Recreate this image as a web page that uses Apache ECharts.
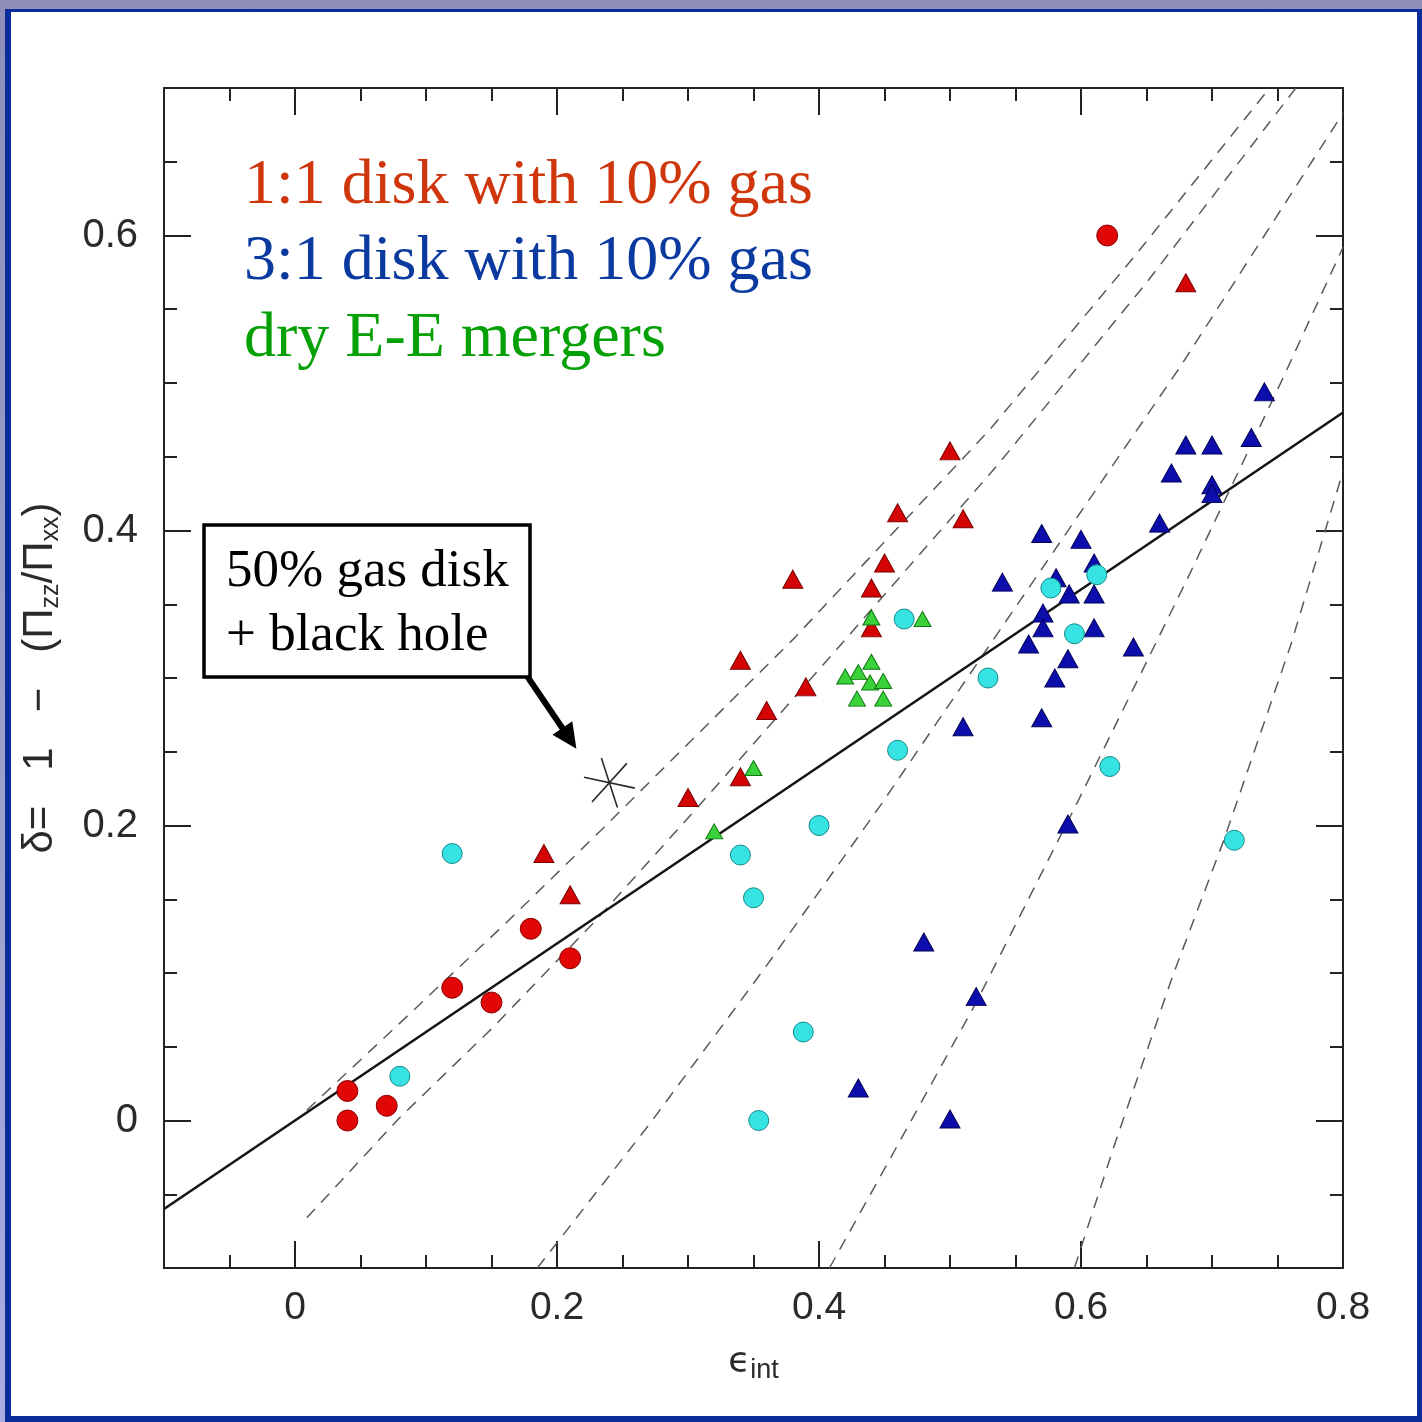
<!DOCTYPE html>
<html>
<head>
<meta charset="utf-8">
<title>Anisotropy vs intrinsic ellipticity</title>
<script src="https://cdn.jsdelivr.net/npm/echarts@6/dist/echarts.min.js"></script>
<style>
  html, body { margin: 0; padding: 0; background: #fff; }
  #frame { position: absolute; left: 0; top: 0; width: 1422px; height: 1422px;
           background: linear-gradient(180deg, #8e8eb9 0%, #abacdf 100%); }
  #inner { position: absolute; left: 5px; top: 9px; width: 1417px; height: 1413px;
           box-sizing: border-box; border-style: solid; border-color: #0b2d9c;
           border-width: 3px 5px 6px 6px; background: #fff; }
  #chart { position: absolute; left: 0; top: 0; width: 1422px; height: 1422px; }
</style>
</head>
<body>
<div id="frame"><div id="inner"></div></div>
<div id="chart"></div>
<script>
// ---- axis ranges and tick labels ----
const xMin = -0.1, xMax = 0.8, yMin = -0.1, yMax = 0.7, tickStep = 0.05;
const xLabelValues = [0, 0.2, 0.4, 0.6, 0.8];
const yLabelValues = [0, 0.2, 0.4, 0.6];

// ---- simulated remnants: [epsilon_int, delta] ----
const disk11Circles = [[0.04, 0.02], [0.04, 0.0], [0.07, 0.01], [0.12, 0.09], [0.15, 0.08],
  [0.18, 0.13], [0.21, 0.11], [0.62, 0.60]];
const disk11Triangles = [[0.19, 0.181], [0.21, 0.153], [0.30, 0.219], [0.34, 0.233], [0.34, 0.312],
  [0.36, 0.278], [0.38, 0.367], [0.39, 0.294], [0.44, 0.361], [0.44, 0.334], [0.45, 0.378],
  [0.46, 0.412], [0.50, 0.454], [0.51, 0.408], [0.68, 0.568]];
const disk31Triangles = [[0.740, 0.494], [0.680, 0.458], [0.700, 0.458], [0.730, 0.463], [0.669, 0.439],
  [0.700, 0.431], [0.700, 0.425], [0.660, 0.405], [0.570, 0.398], [0.600, 0.394], [0.610, 0.378],
  [0.540, 0.365], [0.581, 0.368], [0.591, 0.357], [0.610, 0.357], [0.571, 0.344], [0.571, 0.334],
  [0.610, 0.334], [0.560, 0.323], [0.640, 0.321], [0.590, 0.313], [0.580, 0.300], [0.570, 0.273],
  [0.510, 0.267], [0.590, 0.201], [0.480, 0.121], [0.520, 0.084], [0.430, 0.022], [0.500, 0.001]];
const disk31Circles = [[0.08, 0.03], [0.12, 0.181], [0.34, 0.18], [0.35, 0.151], [0.40, 0.20],
  [0.388, 0.06], [0.354, 0.0], [0.465, 0.34], [0.46, 0.251], [0.529, 0.30], [0.577, 0.361],
  [0.612, 0.37], [0.595, 0.33], [0.622, 0.24], [0.717, 0.19]];
const dryMergers = [[0.32, 0.196], [0.35, 0.239], [0.44, 0.341], [0.479, 0.340], [0.44, 0.311],
  [0.43, 0.304], [0.42, 0.301], [0.439, 0.297], [0.449, 0.298], [0.429, 0.286], [0.449, 0.286]];
const gasBhRemnant = [[0.24, 0.229]];

// ---- reference relations ----
const deltaFit = [[-0.1, -0.06], [0.8, 0.48]];
const curveA = [[0.009, 0.007], [0.086, 0.071], [0.16, 0.133], [0.235, 0.198], [0.38, 0.326], [0.53, 0.468], [0.64, 0.585], [0.744, 0.70], [0.76, 0.72]];
const curveB = [[0.009, -0.066], [0.08, 0.002], [0.151, 0.063], [0.230, 0.136], [0.307, 0.212], [0.42, 0.326], [0.535, 0.443], [0.65, 0.568], [0.764, 0.70], [0.78, 0.72]];
const curveC = [[0.185, -0.1], [0.271, -0.002], [0.36, 0.105], [0.448, 0.215], [0.54, 0.335], [0.675, 0.51], [0.8, 0.683]];
const curveD = [[0.408, -0.1], [0.458, -0.02], [0.52, 0.08], [0.598, 0.217], [0.68, 0.365], [0.754, 0.503], [0.8, 0.592]];
const curveE = [[0.595, -0.1], [0.625, -0.018], [0.67, 0.098], [0.709, 0.19], [0.76, 0.322], [0.8, 0.44]];

const tickColor = '#222';
const labelFont = 'Liberation Sans';

function labelFor(values) {
  return function (v) {
    const hit = values.find(t => Math.abs(t - v) < 1e-6);
    return hit === undefined ? '' : (hit === 0 ? '0' : String(hit));
  };
}

function minorAxis(pos, min, max, extra) {
  return Object.assign({
    type: 'value', position: pos, min: min, max: max, interval: tickStep,
    splitLine: { show: false },
    axisLine: { show: true, onZero: false, lineStyle: { color: tickColor, width: 2 } },
    axisTick: { show: true, inside: true, length: 13, lineStyle: { color: tickColor, width: 2 } },
    axisLabel: { show: false }
  }, extra || {});
}
function majorAxis(pos, min, max, values) {
  return {
    type: 'value', position: pos, min: min, max: max, interval: tickStep,
    splitLine: { show: false },
    axisLine: { show: false, onZero: false },
    axisTick: { show: true, inside: true, length: 27, customValues: values, lineStyle: { color: tickColor, width: 2 } },
    axisLabel: { show: false }
  };
}

const curveStyle = { color: '#5a5a5a', width: 1.5, type: [12, 9] };
function dashedCurve(data) {
  return { type: 'line', data: data, symbol: 'none', smooth: false,
           lineStyle: curveStyle, z: 2, silent: true };
}
function scatter(data, symbol, size, fill, edge, z) {
  return { type: 'scatter', data: data, symbol: symbol, symbolSize: size,
           itemStyle: { color: fill, borderColor: edge, borderWidth: 1, opacity: 1 }, z: z };
}

const chart = echarts.init(document.getElementById('chart'), null, { renderer: 'canvas' });

const option = {
  animation: false,
  backgroundColor: 'transparent',
  grid: { left: 164, top: 88, width: 1179, height: 1180 },
  xAxis: [
    minorAxis('bottom', xMin, xMax, {
      axisLabel: { show: true, formatter: labelFor(xLabelValues), margin: 21, color: '#2a2a2a',
                   fontFamily: labelFont, fontSize: 39 },
      name: '{e|ϵ}{s|int}', nameLocation: 'middle', nameGap: 74,
      nameTextStyle: { color: '#2a2a2a', rich: {
        e: { fontFamily: 'DejaVu Sans', fontSize: 36, lineHeight: 42, verticalAlign: 'middle', color: '#2a2a2a' },
        s: { fontFamily: labelFont, fontSize: 27, lineHeight: 22, verticalAlign: 'bottom', color: '#2a2a2a' } } }
    }),
    minorAxis('top', xMin, xMax),
    majorAxis('bottom', xMin, xMax, xLabelValues),
    majorAxis('top', xMin, xMax, xLabelValues)
  ],
  yAxis: [
    minorAxis('left', yMin, yMax, {
      axisLabel: { show: true, formatter: labelFor(yLabelValues), margin: 26, color: '#2a2a2a',
                   fontFamily: labelFont, fontSize: 40 },
      name: '{a|δ=   1   −   (Π}{s|zz}{a|/Π}{s|xx}{a|)}', nameLocation: 'middle', nameRotate: 90, nameGap: 100,
      nameTextStyle: { color: '#2a2a2a', rich: {
        a: { fontFamily: labelFont, fontSize: 42, lineHeight: 48, verticalAlign: 'middle', color: '#2a2a2a' },
        s: { fontFamily: labelFont, fontSize: 25, lineHeight: 24, verticalAlign: 'bottom', color: '#2a2a2a' } } }
    }),
    minorAxis('right', yMin, yMax),
    majorAxis('left', yMin, yMax, yLabelValues),
    majorAxis('right', yMin, yMax, yLabelValues)
  ],
  graphic: [
    { type: 'text', id: 'lg1', x: 244, y: 186, z: 10,
      style: { text: '1:1 disk with 10% gas', fill: '#cf360c', font: '64px "Liberation Serif"',
               align: 'left', verticalAlign: 'middle', textAlign: 'left', textVerticalAlign: 'middle' } },
    { type: 'text', id: 'lg2', x: 244, y: 262, z: 10,
      style: { text: '3:1 disk with 10% gas', fill: '#0a3aa0', font: '64px "Liberation Serif"',
               align: 'left', verticalAlign: 'middle', textAlign: 'left', textVerticalAlign: 'middle' } },
    { type: 'text', id: 'lg3', x: 244, y: 339, z: 10,
      style: { text: 'dry E-E mergers', fill: '#05a005', font: '64px "Liberation Serif"',
               align: 'left', verticalAlign: 'middle', textAlign: 'left', textVerticalAlign: 'middle' } },
    { type: 'rect', id: 'box', z: 10, shape: { x: 204, y: 525, width: 326, height: 152 },
      style: { fill: '#fff', stroke: '#000', lineWidth: 3.5 } },
    { type: 'text', id: 'box1', x: 226, y: 572, z: 11,
      style: { text: '50% gas disk', fill: '#000', font: '53px "Liberation Serif"',
               align: 'left', verticalAlign: 'middle', textAlign: 'left', textVerticalAlign: 'middle' } },
    { type: 'text', id: 'box2', x: 226, y: 636, z: 11,
      style: { text: '+ black hole', fill: '#000', font: '53px "Liberation Serif"',
               align: 'left', verticalAlign: 'middle', textAlign: 'left', textVerticalAlign: 'middle' } }
  ],
  series: [
    dashedCurve(curveA), dashedCurve(curveB), dashedCurve(curveC), dashedCurve(curveD), dashedCurve(curveE),
    { type: 'line', data: deltaFit, symbol: 'none', lineStyle: { color: '#151515', width: 2.6 }, z: 3, silent: true },
    scatter(disk31Triangles, 'triangle', [20, 18], '#0d0dab', '#00005a', 4),
    scatter(disk11Circles, 'circle', 21, '#e10707', '#8a0000', 5),
    scatter(disk11Triangles, 'triangle', [20, 18], '#d40404', '#7a0000', 5),
    scatter(dryMergers, 'triangle', [17, 15], '#3ad13a', '#0f7a0f', 6),
    scatter(disk31Circles, 'circle', 20, '#36e2e2', '#128a8a', 7),
    { type: 'custom', data: gasBhRemnant, z: 8,
      renderItem: function (params, api) {
        const c = api.coord([api.value(0), api.value(1)]);
        const r = 26;
        const angles = [12, 72, 132];
        return { type: 'group', children: angles.map(function (a) {
          const t = a * Math.PI / 180, dx = r * Math.cos(t), dy = r * Math.sin(t);
          return { type: 'line', shape: { x1: c[0] - dx, y1: c[1] - dy, x2: c[0] + dx, y2: c[1] + dy },
                   style: { stroke: '#2a2a2a', lineWidth: 1.6 } };
        }) };
      } }
  ]
};
chart.setOption(option);

// Callout arrow from the box corner toward the gas-rich remnant
const p = chart.convertToPixel({ xAxisIndex: 0, yAxisIndex: 0 }, gasBhRemnant[0]);
const tip = [p[0] - 33, p[1] - 34];
const tail = [527, 676];
const dx = tip[0] - tail[0], dy = tip[1] - tail[1];
const len = Math.sqrt(dx * dx + dy * dy), ux = dx / len, uy = dy / len;
const headLen = 25, headHalf = 12;
const base = [tip[0] - headLen * ux, tip[1] - headLen * uy];
chart.setOption({ graphic: [
  { type: 'line', id: 'arrowShaft', z: 11, shape: { x1: tail[0], y1: tail[1], x2: base[0] + 2 * ux, y2: base[1] + 2 * uy },
    style: { stroke: '#000', lineWidth: 6 } },
  { type: 'polygon', id: 'arrowHead', z: 11,
    shape: { points: [tip, [base[0] - headHalf * uy, base[1] + headHalf * ux], [base[0] + headHalf * uy, base[1] - headHalf * ux]] },
    style: { fill: '#000' } }
] });
</script>
</body>
</html>
